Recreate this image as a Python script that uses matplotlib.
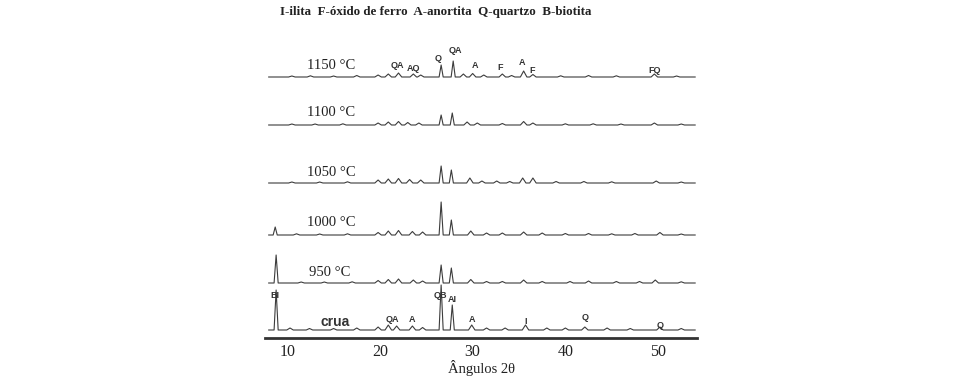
import matplotlib
matplotlib.use("Agg")
import matplotlib.pyplot as plt
import numpy as np

# ---------------- data ----------------
title_text = "I-ilita  F-óxido de ferro  A-anortita  Q-quartzo  B-biotita"
pattern_names = ["1150 °C", "1100 °C", "1050 °C", "1000 °C", "950 °C", "crua"]

# peak positions (2θ) and relative intensities (arbitrary units) per pattern
p1150_pos = [10.5, 12.5, 15.0, 17.5, 19.8, 20.9, 22.0, 23.6, 24.4, 26.6, 27.9, 29.0, 30.0, 31.2, 33.2, 34.2, 35.5, 36.5, 39.5, 42.5, 45.5, 49.6, 52.0]
p1150_int = [1.0, 1.2, 1.0, 1.5, 2.0, 3.0, 4.0, 3.0, 2.0, 12.0, 16.0, 3.0, 3.5, 2.0, 3.0, 1.5, 6.0, 2.5, 1.2, 1.5, 1.2, 3.0, 1.0]

p1100_pos = [10.5, 13.0, 16.0, 19.8, 20.9, 22.0, 23.0, 24.2, 26.6, 27.8, 29.4, 30.5, 33.2, 35.5, 36.5, 40.0, 43.0, 46.0, 49.6, 52.5]
p1100_int = [1.0, 1.0, 1.2, 2.0, 3.0, 3.5, 2.5, 2.0, 10.0, 12.0, 3.0, 2.0, 1.5, 3.5, 2.0, 1.2, 1.2, 1.0, 2.0, 1.0]

p1050_pos = [10.5, 13.5, 16.5, 19.8, 20.9, 22.0, 23.2, 24.4, 26.6, 27.7, 29.7, 31.0, 32.6, 34.0, 35.4, 36.5, 39.0, 42.0, 45.0, 49.8, 52.5]
p1050_int = [1.0, 1.0, 1.2, 3.0, 4.0, 4.5, 3.5, 3.0, 17.0, 13.0, 5.0, 2.0, 2.0, 1.5, 5.0, 5.0, 1.5, 1.5, 1.2, 2.0, 1.0]

p1000_pos = [8.7, 11.0, 13.5, 16.5, 19.8, 20.9, 22.0, 23.5, 24.6, 26.6, 27.7, 29.8, 31.5, 33.2, 35.5, 37.5, 40.0, 42.5, 45.0, 47.5, 50.2, 52.5]
p1000_int = [8.0, 1.2, 1.0, 1.2, 2.5, 4.0, 4.5, 3.5, 3.0, 33.0, 15.0, 4.0, 2.0, 2.0, 3.0, 2.0, 1.5, 1.5, 1.2, 1.5, 2.5, 1.0]

p950_pos = [8.8, 11.5, 14.0, 17.0, 19.8, 20.9, 22.0, 23.6, 24.6, 26.6, 27.7, 29.8, 31.5, 33.2, 35.5, 37.5, 40.5, 42.5, 45.5, 48.0, 49.7, 52.5]
p950_int = [28.0, 1.0, 1.0, 1.2, 2.5, 3.5, 4.0, 3.0, 2.0, 18.0, 15.0, 3.5, 1.5, 1.5, 3.0, 1.5, 1.5, 2.0, 1.5, 1.5, 3.0, 1.2]

pcrua_pos = [8.8, 10.3, 12.4, 15.0, 17.5, 19.8, 20.9, 21.8, 23.5, 24.6, 26.6, 27.8, 29.9, 31.5, 33.5, 35.7, 38.0, 40.0, 42.1, 44.5, 47.0, 50.2, 52.5]
pcrua_int = [40.0, 2.0, 1.5, 1.5, 2.0, 3.0, 5.0, 4.0, 4.0, 2.5, 45.0, 25.0, 5.0, 2.0, 2.0, 5.0, 2.0, 2.0, 3.0, 2.0, 1.5, 3.0, 1.5]

# phase labels: (text, 2θ) for the 1150 °C and crua patterns
lab1150_text = ["QA", "AQ", "Q", "QA", "A", "F", "A", "F", "FQ"]
lab1150_pos = [21.86, 23.58, 26.28, 28.11, 30.27, 32.97, 35.34, 36.42, 49.68]
labcrua_text = ["BI", "QA", "A", "QB", "AI", "A", "I", "Q", "Q"]
labcrua_pos = [8.71, 21.32, 23.48, 26.50, 27.79, 29.95, 35.66, 42.13, 50.22]

x_ticks = [10, 20, 30, 40, 50]
x_label = "Ângulos 2θ"

# ---------------- layout / style ----------------
W, H = 960, 379
fig = plt.figure(figsize=(W / 100, H / 100), dpi=100)
fig.patch.set_facecolor("white")

ax_left_px, ax_right_px = 265, 697
ax_bottom_px, ax_top_px = 338, 20
ax = fig.add_axes([ax_left_px / W, (H - ax_bottom_px) / H,
                   (ax_right_px - ax_left_px) / W, (ax_bottom_px - ax_top_px) / H])
ax.set_xlim(7.6, 54.2)
ax.set_ylim(0, ax_bottom_px - ax_top_px)

# baseline offsets (vertical stacking) for each pattern
offsets = [261, 213, 155, 103, 55, 8]
peaks = [(p1150_pos, p1150_int), (p1100_pos, p1100_int), (p1050_pos, p1050_int),
         (p1000_pos, p1000_int), (p950_pos, p950_int), (pcrua_pos, pcrua_int)]

line_col = "#3c3c3c"
x_start, x_end = 8.0, 54.0
for (pos, inten), off in zip(peaks, offsets):
    xs = [x_start]
    ys = [off]
    for p, h in zip(pos, inten):
        hw = 0.22 if h > 6 else 0.35
        xs += [p - hw, p, p + hw]
        ys += [off, off + h, off]
    xs.append(x_end)
    ys.append(off)
    ax.plot(xs, ys, color=line_col, lw=0.8)

# pattern names
serif = ["Liberation Serif", "DejaVu Serif"]
name_x = [12.16, 12.16, 12.16, 12.16, 12.3, 13.56]
name_dy = [12, 12, 11, 12, 10, 8]
for name, off, nx, dy in zip(pattern_names, offsets, name_x, name_dy):
    if name == "crua":
        ax.text(nx, off + dy, name, family="Liberation Sans", fontsize=10,
                fontweight="bold", color="#333333", va="center", ha="left")
    else:
        ax.text(nx, off + dy, name, family=serif, fontsize=10.5,
                color="#222222", va="center", ha="left")

# phase labels
lab1150_dy = [12, 9, 19, 27, 12, 10, 15, 7, 7]
for t, p, dy in zip(lab1150_text, lab1150_pos, lab1150_dy):
    ax.text(p, offsets[0] + dy, t, family="Liberation Sans", fontsize=6.5,
            fontweight="bold", color="#333333", ha="center", va="center")
labcrua_dy = [35, 10, 10, 35, 30, 10, 8, 13, 5]
for t, p, dy in zip(labcrua_text, labcrua_pos, labcrua_dy):
    ax.text(p, offsets[5] + dy, t, family="Liberation Sans", fontsize=6.5,
            fontweight="bold", color="#333333", ha="center", va="center")

# axes styling
for s in ["top", "right", "left"]:
    ax.spines[s].set_visible(False)
ax.spines["bottom"].set_linewidth(2.0)
ax.spines["bottom"].set_color("#333333")
ax.set_yticks([])
ax.set_xticks(x_ticks)
ax.tick_params(axis="x", length=0, pad=4, labelsize=11.5, labelcolor="#222222")
for lbl in ax.get_xticklabels():
    lbl.set_family(serif)
ax.set_xlabel(x_label, family=serif, fontsize=10.5, color="#222222", labelpad=0)
ax.set_facecolor("none")

fig.text(280 / W, 1 - 12 / H, title_text, family=serif, fontsize=9.4,
         fontweight="bold", color="#222222", ha="left", va="center")

fig.savefig("out.png", dpi=100, facecolor="white")
